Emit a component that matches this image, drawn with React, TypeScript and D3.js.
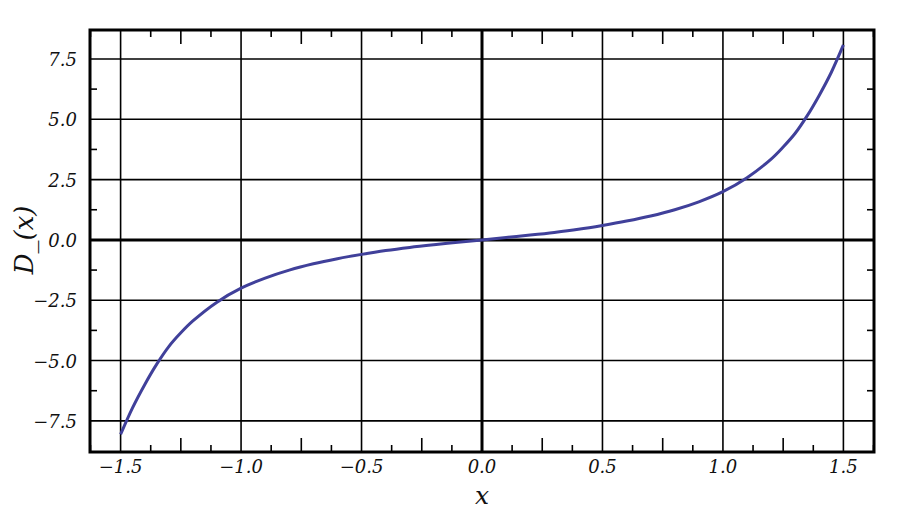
import React from "react";
import * as d3 from "d3";

// values
const xs = [
  -1.5, -1.45, -1.4, -1.35, -1.3, -1.25, -1.2, -1.1, -1.0, -0.9, -0.8, -0.7, -0.6, -0.5, -0.4, -0.3, -0.2, -0.1,
  0, 0.1, 0.2, 0.3, 0.4, 0.5, 0.6, 0.7, 0.8, 0.9, 1.0, 1.1, 1.2, 1.25, 1.3, 1.35, 1.4, 1.45, 1.5,
];
const ys = [
  -8.06, -6.95, -6.0, -5.15, -4.42, -3.85, -3.36, -2.58, -2.0, -1.58, -1.25, -0.99, -0.78, -0.6, -0.44, -0.31, -0.2, -0.1,
  0, 0.1, 0.2, 0.31, 0.44, 0.6, 0.78, 0.99, 1.25, 1.58, 2.0, 2.58, 3.35, 3.85, 4.42, 5.15, 6.0, 6.95, 8.08,
];
const xMajor = [-1.5, -1.0, -0.5, 0.0, 0.5, 1.0, 1.5];
const yMajor = [-7.5, -5.0, -2.5, 0.0, 2.5, 5.0, 7.5];
const xMinor = [-1.625, -1.375, -1.25, -1.125, -0.875, -0.75, -0.625, -0.375, -0.25, -0.125, 0.125, 0.25, 0.375, 0.625, 0.75, 0.875, 1.125, 1.25, 1.375, 1.625];
const yMinor = [-6.25, -3.75, -1.25, 1.25, 3.75, 6.25];

const W = 904;
const H = 512;
const left = 90, right = 874, top = 30, bottom = 452;

const fmt = (v: number) => v.toFixed(1).replace("-", "\u2212");

export default function App() {
  const x = d3.scaleLinear().domain([-1.627, 1.627]).range([left, right]);
  const y = d3.scaleLinear().domain([-8.79, 8.7]).range([bottom, top]);

  const pts = xs.map((v, i) => [v, ys[i]] as [number, number]);
  const path = d3
    .line<[number, number]>()
    .x((d) => x(d[0]))
    .y((d) => y(d[1]))
    .curve(d3.curveCatmullRom.alpha(0.5))(pts);

  const font = "'DejaVu Serif', serif";

  return (
    <svg
      width={W}
      height={H}
      style={{ position: "absolute", left: 0, top: 0, background: "#fff" }}
    >
      {/* grid */}
      {xMajor.map((v) => (
        <line
          key={"gx" + v}
          x1={x(v)}
          x2={x(v)}
          y1={top}
          y2={bottom}
          stroke="#000"
          strokeWidth={v === 0 ? 3 : 1.6}
        />
      ))}
      {yMajor.map((v) => (
        <line
          key={"gy" + v}
          x1={left}
          x2={right}
          y1={y(v)}
          y2={y(v)}
          stroke="#000"
          strokeWidth={v === 0 ? 3 : 1.6}
        />
      ))}
      {/* minor ticks, inward on all four sides */}
      {xMinor.map((v) => {
        const len = Math.abs((v / 0.25) % 2) === 1 ? 14 : 7;
        return (
          <g key={"mx" + v}>
            <line x1={x(v)} x2={x(v)} y1={bottom} y2={bottom - len} stroke="#000" strokeWidth={1.6} />
            <line x1={x(v)} x2={x(v)} y1={top} y2={top + len} stroke="#000" strokeWidth={1.6} />
          </g>
        );
      })}
      {yMinor.map((v) => (
        <g key={"my" + v}>
          <line x1={left} x2={left + 7} y1={y(v)} y2={y(v)} stroke="#000" strokeWidth={1.6} />
          <line x1={right} x2={right - 7} y1={y(v)} y2={y(v)} stroke="#000" strokeWidth={1.6} />
        </g>
      ))}
      {/* curve */}
      <path d={path || ""} fill="none" stroke="#40409a" strokeWidth={3} />
      {/* frame */}
      <rect
        x={left}
        y={top}
        width={right - left}
        height={bottom - top}
        fill="none"
        stroke="#000"
        strokeWidth={3}
      />
      {/* tick labels */}
      {xMajor.map((v) => (
        <text
          key={"lx" + v}
          x={x(v)}
          y={473}
          textAnchor="middle"
          fontFamily={font}
          fontStyle="italic"
          fontSize={18}
          fill="#111"
        >
          {fmt(v)}
        </text>
      ))}
      {yMajor.map((v) => (
        <text
          key={"ly" + v}
          x={77}
          y={y(v) + 7}
          textAnchor="end"
          fontFamily={font}
          fontStyle="italic"
          fontSize={18}
          fill="#111"
        >
          {fmt(v)}
        </text>
      ))}
      {/* axis labels */}
      <text
        x={x(0)}
        y={504}
        textAnchor="middle"
        fontFamily={font}
        fontStyle="italic"
        fontSize={25}
        fill="#111"
      >
        x
      </text>
      <text
        transform={`translate(33,${y(0)}) rotate(-90)`}
        textAnchor="middle"
        fontFamily={font}
        fontStyle="italic"
        fontSize={26}
        fill="#111"
      >
        D_(x)
      </text>
    </svg>
  );
}
